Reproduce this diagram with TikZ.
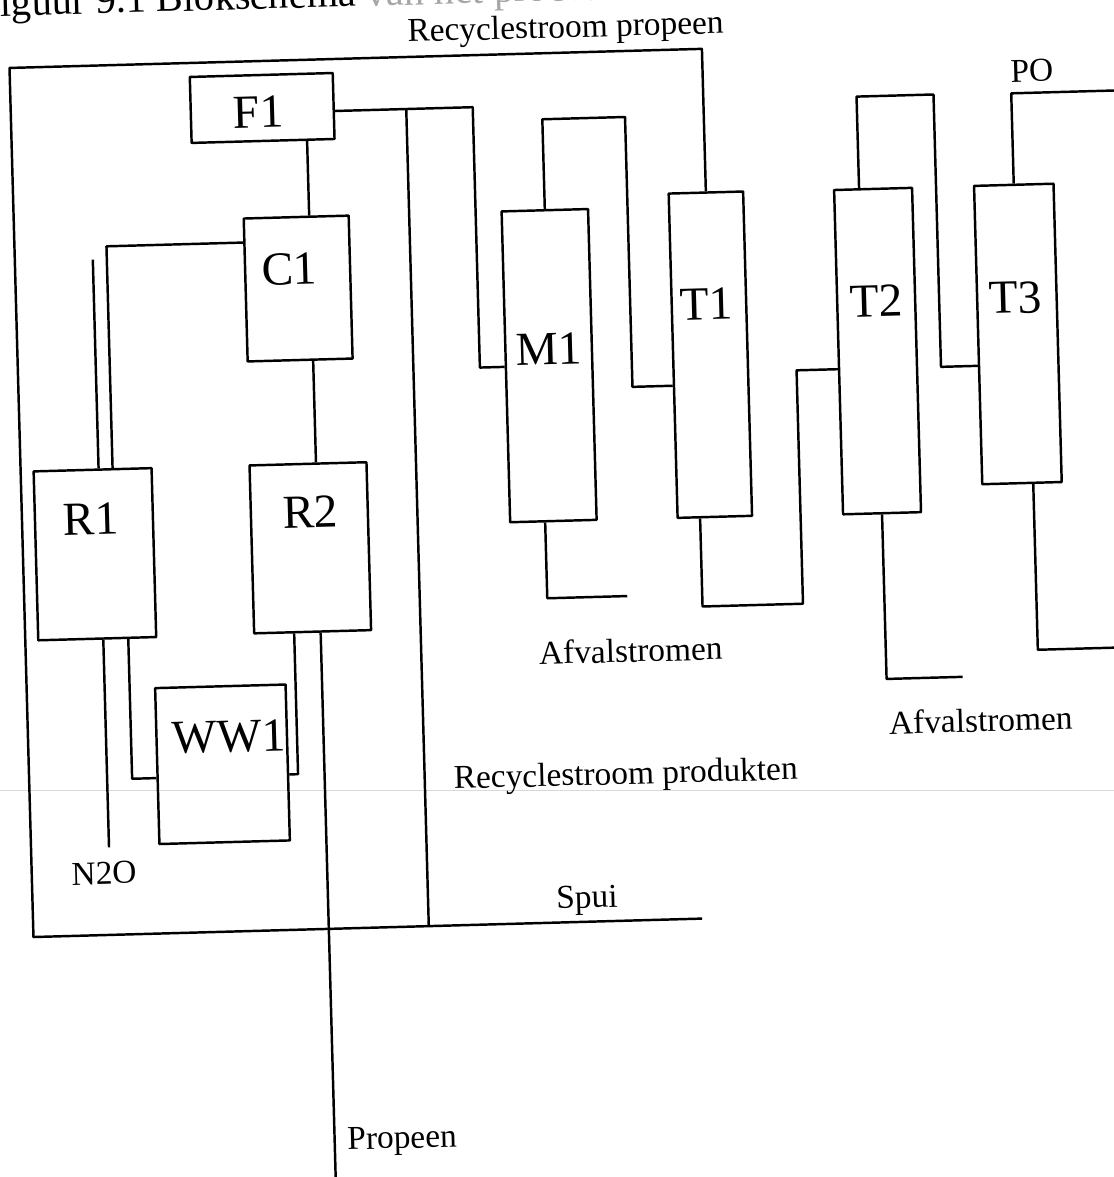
\documentclass[tikz,border=0pt]{standalone}
\usepackage{fontspec}
\setmainfont{Liberation Serif}
\begin{document}
\begin{tikzpicture}[x=0.02cm,y=-0.02cm,line join=round,
	unit/.style={draw,line width=1.4pt,inner sep=0pt,transform shape},
	streamtag/.style={anchor=base,inner sep=0pt,font=\fontsize{19}{23}\selectfont,transform shape},
	unittag/.style={anchor=base,inner sep=0pt,font=\fontsize{27}{32}\selectfont,transform shape}]
	\useasboundingbox (-557,-588) rectangle (557,589);
	% faint scan line
	\draw[gray!30,line width=0.4pt] (-557,202) -- (557,202);
	\begin{scope}[rotate=1.58,line width=1.4pt]
		\node[streamtag,anchor=base west,font=\fontsize{23}{27}\selectfont] (title) at (-564,-587) {Figuur 9.1 Blokschema \textcolor{gray!70}{van het proces}};
		% units
		\node[unit,minimum width=2.86cm,minimum height=1.32cm] (F1) at (-281.5,-488) {};
		\node[unit,minimum width=2.10cm,minimum height=2.86cm] (C1) at (-250.5,-306.5) {};
		\node[unit,minimum width=2.36cm,minimum height=3.38cm] (R1) at (-461,-46.5) {};
		\node[unit,minimum width=2.34cm,minimum height=3.36cm] (R2) at (-245.5,-47) {};
		\node[unit,minimum width=2.61cm,minimum height=3.12cm] (WW1) at (-339.25,167) {};
		\node[unit,minimum width=1.73cm,minimum height=6.22cm] (M1) at (-1.75,-222.5) {};
		\node[unit,minimum width=1.49cm,minimum height=6.49cm] (T1) at (159.75,-229) {};
		\node[unit,minimum width=1.56cm,minimum height=6.49cm] (T2) at (327,-228) {};
		\node[unit,minimum width=1.59cm,minimum height=5.97cm] (T3) at (467.75,-241.25) {};
		\node[unittag] (F1t) at (-285.4,-468.2) {F1};
		\node[unittag] (C1t) at (-258.7,-310.3) {C1};
		\node[unittag] (R1t) at (-464,-65.8) {R1};
		\node[unittag] (R2t) at (-244.4,-66.8) {R2};
		\node[unittag] (WW1t) at (-332,155) {WW1};
		\node[unittag] (M1t) at (-1.9,-223.2) {M1};
		\node[unittag] (T1t) at (157.4,-263.9) {T1};
		\node[unittag] (T2t) at (327,-262.5) {T2};
		\node[unittag] (T3t) at (466.6,-262) {T3};
		% bends and free ends
		\coordinate (loopTop) at (-533,-535);
		\coordinate (loopBot) at (-533,334.5);
		\coordinate (spuiEnd) at (136,334.5);
		\coordinate (mixIn) at (-71,-483);
		\coordinate (prodRec) at (-137.5,-483);
		\coordinate (col) at (-237.5,0);
		\coordinate (propIn) at (-237.5,610);
		\coordinate (c1Out) at (-441,-354);
		\coordinate (n2oTop) at (-455,-341);
		\coordinate (n2oEnd) at (-455,247);
		\coordinate (r1Ww) at (-430,179);
		\coordinate (r2Ww) at (-264,179);
		\coordinate (m1Top) at (81,-469);
		\coordinate (t1In) at (81,-199);
		\coordinate (m1Low) at (-10,10);
		\coordinate (m1Waste) at (70,10);
		\coordinate (t1Low) at (145,22.5);
		\coordinate (t2Feed) at (245.5,22.5);
		\coordinate (t2In) at (245.5,-211);
		\coordinate (t2Top) at (313,-483);
		\coordinate (t2Ovh) at (390,-483);
		\coordinate (t3In) at (390,-210.5);
		\coordinate (t2Waste) at (403,100);
		\coordinate (poEnd) at (580,-482);
		\coordinate (t3Low) at (479,75);
		\coordinate (t3Waste) at (580,75);
		% streams
		\draw (T1.north) |- (loopTop) -- (loopBot) -- (spuiEnd);
		\draw (F1.east |- mixIn) -- (mixIn) |- (M1.west);
		\draw (prodRec) -- (prodRec |- spuiEnd);
		\draw (col |- F1.south) -- (col |- C1.north);
		\draw (col |- C1.south) -- (col |- R2.north);
		\draw (col |- R2.south) -- (col |- propIn);
		\draw (C1.west |- c1Out) -- (c1Out) -- (c1Out |- R1.north);
		\draw (n2oTop) -- (n2oTop |- R1.north);
		\draw (n2oEnd |- R1.south) -- (n2oEnd);
		\draw (r1Ww |- R1.south) -- (r1Ww) -- (WW1.west |- r1Ww);
		\draw (r2Ww |- R2.south) -- (r2Ww) -- (WW1.east |- r2Ww);
		\draw (M1.north) |- (m1Top) -- (t1In) -- (T1.west |- t1In);
		\draw (m1Low |- M1.south) -- (m1Low) -- (m1Waste);
		\draw (t1Low |- T1.south) -- (t1Low) -- (t2Feed) -- (t2In) -- (T2.west |- t2In);
		\draw (t2Top |- T2.north) -- (t2Top) -- (t2Ovh) -- (t3In) -- (T3.west |- t3In);
		\draw (T2.south) |- (t2Waste);
		\draw (T3.north) |- (poEnd);
		\draw (t3Low |- T3.south) |- (t3Waste);
		% stream labels
		\node[streamtag] (recProp) at (24,-550) {Recyclestroom propeen};
		\node[streamtag] (poTag) at (489,-493) {PO};
		\node[streamtag] (waste1) at (72,76) {Afvalstromen};
		\node[streamtag] (waste2) at (420,155.4) {Afvalstromen};
		\node[streamtag] (recProd) at (63.6,198) {Recyclestroom produkten};
		\node[streamtag] (n2oTag) at (-460.6,283.6) {N2O};
		\node[streamtag] (spuiTag) at (21.4,320.8) {Spui};
		\node[streamtag] (propTag) at (-170,555.8) {Propeen};
	\end{scope}
\end{tikzpicture}
\end{document}
